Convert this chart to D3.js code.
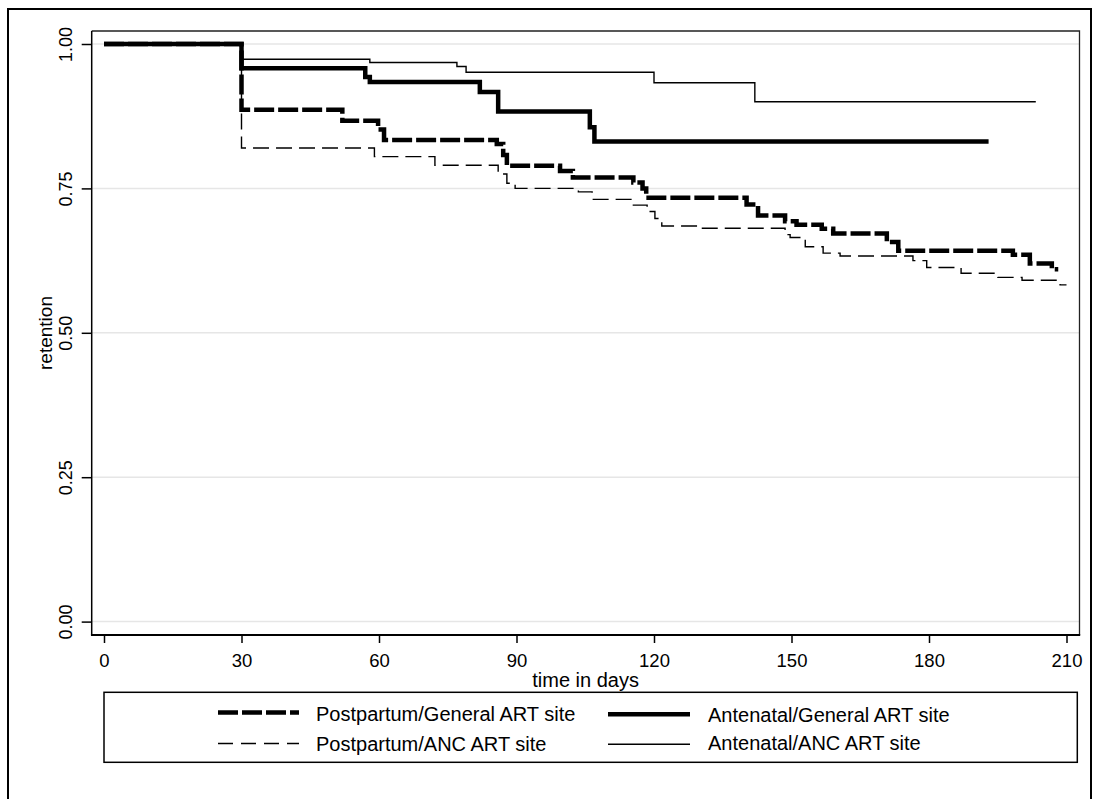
<!DOCTYPE html>
<html>
<head>
<meta charset="utf-8">
<script src="https://cdn.jsdelivr.net/npm/d3@7"></script>
<style>
  body { margin: 0; background: #fff; }
  text { font-family: "Liberation Sans", Arial, sans-serif; fill: #000; }
</style>
</head>
<body>
<div id="chart"></div>
<script>
// tick values
var xTicks = [0, 30, 60, 90, 120, 150, 180, 210];
var yTicks = [0, 0.25, 0.5, 0.75, 1];
var yTickLabels = ["0.00", "0.25", "0.50", "0.75", "1.00"];

// series names, same order as the legend
var seriesNames = ["Postpartum/General ART site", "Antenatal/General ART site",
                   "Postpartum/ANC ART site", "Antenatal/ANC ART site"];

// kaplan-meier steps, [day, retention], last point = end of follow up
var ppGeneral = [[0, 1], [30, 0.886], [52, 0.867], [59.8, 0.852], [61.1, 0.834],
                 [85.7, 0.827], [87.1, 0.808], [87.9, 0.789], [99.5, 0.780],
                 [102.3, 0.769], [115.5, 0.760], [117.5, 0.750], [118.3, 0.734],
                 [140.2, 0.722], [142.7, 0.703], [148.6, 0.693], [151.1, 0.687],
                 [156.6, 0.680], [159.1, 0.672], [170.8, 0.657], [173.3, 0.642],
                 [198.3, 0.635], [202, 0.620], [206.8, 0.610], [208.2, 0.610]];

var anGeneral = [[0, 1], [30, 0.958], [57, 0.943], [58, 0.934], [82, 0.917],
                 [86, 0.883], [106, 0.856], [107, 0.831], [193, 0.831]];

var ppAnc = [[0, 1], [30, 0.820], [59, 0.805], [72.2, 0.790], [86, 0.775],
             [87.9, 0.759], [89.7, 0.750], [103.5, 0.744], [106.5, 0.731],
             [115.5, 0.721], [118.5, 0.710], [120.2, 0.698], [121.7, 0.685],
             [130, 0.681], [148.6, 0.670], [149.7, 0.665], [153, 0.649],
             [156.9, 0.638], [160.6, 0.633], [176.5, 0.625], [179.5, 0.613],
             [187, 0.603], [195, 0.596], [200.3, 0.591], [208.6, 0.583], [210, 0.583]];

var anAnc = [[0, 1], [30, 0.9735], [58, 0.968], [77, 0.961], [79, 0.951],
             [120, 0.933], [142, 0.900], [203.3, 0.900]];

var width = 1093, height = 799;

// plot region box
var plot = {left: 91.7, right: 1079.5, top: 31, bottom: 635};

var svg = d3.select("#chart")
            .append("svg")
            .attr("width", width)
            .attr("height", height);

// outer graph frame (cropped at bottom)
svg.append("path")
   .attr("d", "M8," + height + "V9H" + 1091 + "V" + height)
   .attr("fill", "none")
   .attr("stroke", "#000")
   .attr("stroke-width", 2);

var x = d3.scaleLinear()
          .domain([0, 210])
          .range([104, 1066.5]);

var y = d3.scaleLinear()
          .domain([0, 1])
          .range([621.6, 44]);

// gridlines
svg.append("g")
   .attr("class", "grid")
   .selectAll("line")
   .data(yTicks)
   .enter()
   .append("line")
   .attr("x1", plot.left)
   .attr("x2", plot.right)
   .attr("y1", function(d){ return y(d); })
   .attr("y2", function(d){ return y(d); })
   .attr("stroke", "#e6e6e6")
   .attr("stroke-width", 1.5);

// plot region outline, top and right
svg.append("path")
   .attr("d", "M" + plot.left + "," + plot.top + "H" + plot.right + "V" + plot.bottom)
   .attr("fill", "none")
   .attr("stroke", "#222")
   .attr("stroke-width", 1.3);

// series lines
var line = d3.line()
             .curve(d3.curveStepAfter)
             .x(function(d){ return x(d[0]); })
             .y(function(d){ return y(d[1]); });

var series = [
  {name: seriesNames[2], values: ppAnc, width: 1.4, dash: "16,7"},
  {name: seriesNames[3], values: anAnc, width: 1.4, dash: null},
  {name: seriesNames[0], values: ppGeneral, width: 4.5, dash: "20,4"},
  {name: seriesNames[1], values: anGeneral, width: 4.5, dash: null}
];

svg.append("g")
   .attr("class", "lines")
   .selectAll("path")
   .data(series)
   .enter()
   .append("path")
   .attr("d", function(d){ return line(d.values); })
   .attr("fill", "none")
   .attr("stroke", "#000")
   .attr("stroke-width", function(d){ return d.width; })
   .attr("stroke-dasharray", function(d){ return d.dash; });

// y axis
var yaxisGroup = svg.append("g")
                    .attr("class", "axis yaxis")
                    .attr("transform", "translate(" + plot.left + ",0)");

yaxisGroup.call(d3.axisLeft(y)
                  .tickValues(yTicks)
                  .tickSize(10)
                  .tickFormat(function(d, i){ return yTickLabels[i]; }));

yaxisGroup.select(".domain").remove();
yaxisGroup.selectAll(".tick line").attr("stroke", "#000").attr("stroke-width", 1.5);
yaxisGroup.selectAll(".tick text")
          .attr("transform", "rotate(-90)")
          .attr("x", 0)
          .attr("y", -20)
          .attr("dy", 0)
          .style("text-anchor", "middle")
          .style("font-size", "18px")
          .style("font-family", "'Liberation Sans', Arial, sans-serif");

svg.append("line")
   .attr("x1", plot.left).attr("x2", plot.left)
   .attr("y1", plot.top).attr("y2", plot.bottom)
   .attr("stroke", "#000")
   .attr("stroke-width", 1.5);

// x axis
var xaxisGroup = svg.append("g")
                    .attr("class", "axis xaxis")
                    .attr("transform", "translate(0," + plot.bottom + ")");

xaxisGroup.call(d3.axisBottom(x)
                  .tickValues(xTicks)
                  .tickSize(8));

xaxisGroup.select(".domain").remove();
xaxisGroup.selectAll(".tick line").attr("stroke", "#000").attr("stroke-width", 1.5);
xaxisGroup.selectAll(".tick text")
          .attr("y", 32)
          .attr("dy", 0)
          .style("font-size", "18.5px")
          .style("font-family", "'Liberation Sans', Arial, sans-serif");

svg.append("line")
   .attr("x1", plot.left - 0.75).attr("x2", plot.right + 0.7)
   .attr("y1", plot.bottom).attr("y2", plot.bottom)
   .attr("stroke", "#000")
   .attr("stroke-width", 2.2);

// axis titles
svg.append("text")
   .attr("transform", "translate(" + ((plot.left + plot.right) / 2) + ",687)")
   .style("text-anchor", "middle")
   .style("font-size", "20px")
   .text("time in days");

svg.append("text")
   .attr("transform", "translate(52," + ((plot.top + plot.bottom) / 2) + ") rotate(-90)")
   .style("text-anchor", "middle")
   .style("font-size", "19px")
   .text("retention");

// legend
var legend = svg.append("g").attr("class", "legend");

legend.append("rect")
      .attr("x", 104)
      .attr("y", 692.3)
      .attr("width", 1077.3 - 104)
      .attr("height", 70)
      .attr("fill", "#fff")
      .attr("stroke", "#000")
      .attr("stroke-width", 1.5);

var legendItems = [
  {name: seriesNames[0], x1: 218, x2: 299, tx: 316, ly: 712.5, ty: 721, width: 4.5, dash: "20,4"},
  {name: seriesNames[2], x1: 218, x2: 299, tx: 316, ly: 743.5, ty: 751, width: 1.4, dash: "15,8"},
  {name: seriesNames[1], x1: 608, x2: 690, tx: 708, ly: 714.3, ty: 722, width: 4.5, dash: null},
  {name: seriesNames[3], x1: 608, x2: 690, tx: 708, ly: 744.3, ty: 749.5, width: 1.4, dash: null}
];

var item = legend.selectAll("g.item")
                 .data(legendItems)
                 .enter()
                 .append("g")
                 .attr("class", "item");

item.append("line")
    .attr("x1", function(d){ return d.x1; })
    .attr("x2", function(d){ return d.x2; })
    .attr("y1", function(d){ return d.ly; })
    .attr("y2", function(d){ return d.ly; })
    .attr("stroke", "#000")
    .attr("stroke-width", function(d){ return d.width; })
    .attr("stroke-dasharray", function(d){ return d.dash; });

item.append("text")
    .attr("x", function(d){ return d.tx; })
    .attr("y", function(d){ return d.ty; })
    .style("font-size", "20px")
    .text(function(d){ return d.name; });
</script>
</body>
</html>
